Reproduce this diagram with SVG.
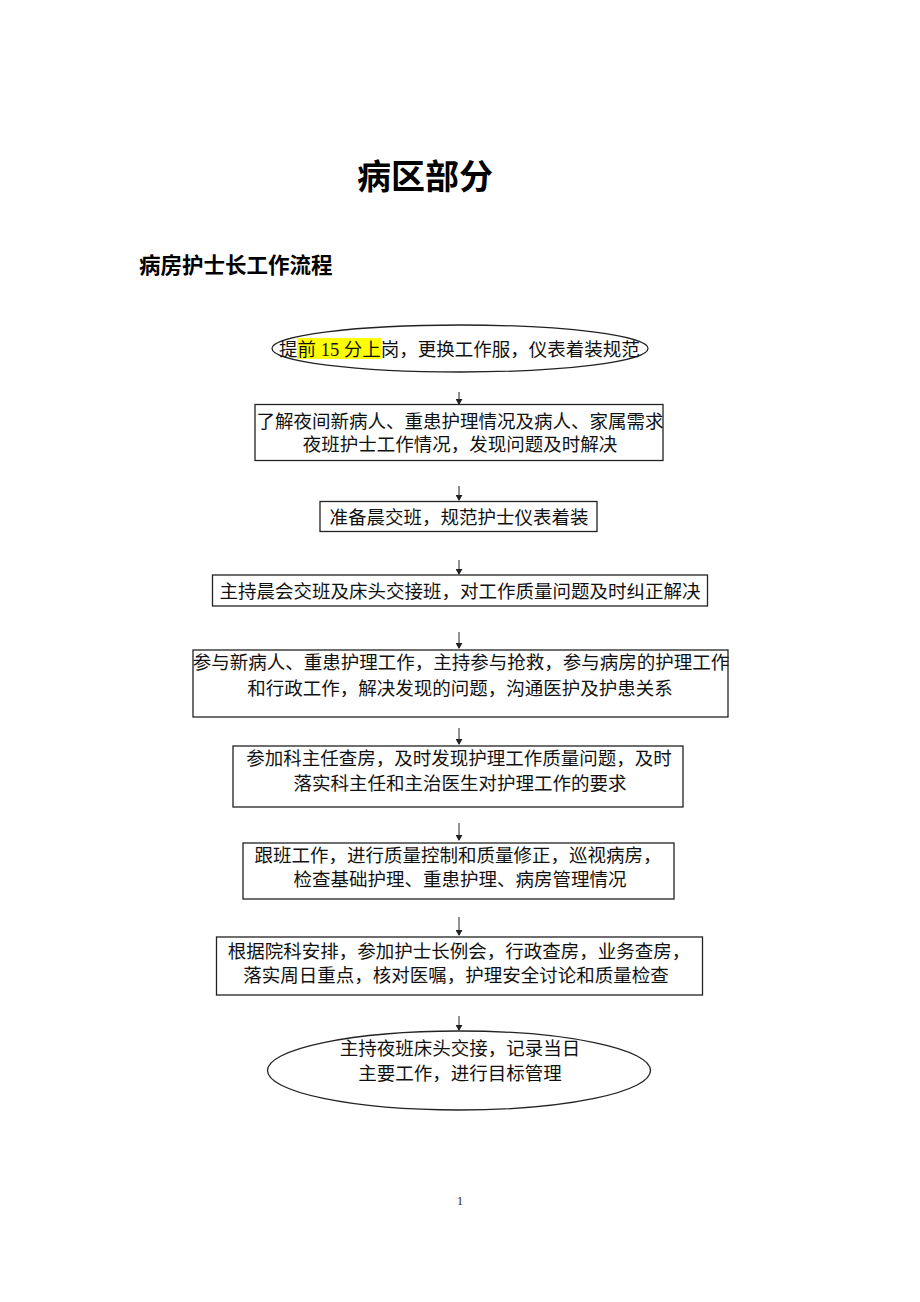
<svg xmlns="http://www.w3.org/2000/svg" width="920" height="1302" viewBox="0 0 920 1302">
<style>
.t{font-family:"Liberation Serif","Noto Sans CJK SC",serif;font-size:18.5px;fill:#111;text-anchor:middle}
.ts{font-family:"Liberation Serif","Noto Sans CJK SC",serif;font-size:18.5px;fill:#111}
.h{font-family:"Liberation Sans","Noto Sans CJK SC",sans-serif;font-weight:bold;fill:#000}
.b{fill:#fff;stroke:#222;stroke-width:1.3}
.c{stroke:#222;stroke-width:1;fill:none}
</style>
<defs>
<marker id="ah" markerWidth="6" markerHeight="7" refX="5" refY="3.5" orient="auto" markerUnits="userSpaceOnUse">
<path d="M0,0 L6,3.5 L0,7 Z" fill="#222"/>
</marker>
</defs>
<rect width="920" height="1302" fill="#fff"/>
<g id="title">
<text class="h" x="425" y="189" font-size="34" text-anchor="middle">病区部分</text>
<text class="h" x="139" y="273" font-size="21.5">病房护士长工作流程</text>
</g>
<g id="connectors">
<line class="c" x1="459" y1="392" x2="459" y2="404" marker-end="url(#ah)"/>
<line class="c" x1="459" y1="486" x2="459" y2="500" marker-end="url(#ah)"/>
<line class="c" x1="459" y1="560" x2="459" y2="574" marker-end="url(#ah)"/>
<line class="c" x1="459" y1="632" x2="459" y2="648" marker-end="url(#ah)"/>
<line class="c" x1="459" y1="728" x2="459" y2="744" marker-end="url(#ah)"/>
<line class="c" x1="459" y1="823" x2="459" y2="840" marker-end="url(#ah)"/>
<line class="c" x1="459" y1="917" x2="459" y2="935" marker-end="url(#ah)"/>
<line class="c" x1="459" y1="1016" x2="459" y2="1030" marker-end="url(#ah)"/>
</g>
<g id="n1">
<ellipse class="b" cx="460" cy="348.5" rx="188" ry="23.5"/>
<rect x="297" y="338" width="84" height="21" fill="#ffff00"/>
<text class="ts" x="279" y="356">提前 15 分上岗，更换工作服，仪表着装规范</text>
</g>
<g id="n2">
<rect class="b" x="255" y="404.5" width="408" height="56"/>
<text class="t" x="460" y="428">了解夜间新病人、重患护理情况及病人、家属需求</text>
<text class="t" x="460" y="451">夜班护士工作情况，发现问题及时解决</text>
</g>
<g id="n3">
<rect class="b" x="320" y="501.5" width="277" height="30"/>
<text class="t" x="459" y="524">准备晨交班，规范护士仪表着装</text>
</g>
<g id="n4">
<rect class="b" x="212.5" y="575" width="495" height="31"/>
<text class="t" x="460" y="598">主持晨会交班及床头交接班，对工作质量问题及时纠正解决</text>
</g>
<g id="n5">
<rect class="b" x="193" y="650" width="535" height="67"/>
<text class="t" x="461" y="669">参与新病人、重患护理工作，主持参与抢救，参与病房的护理工作</text>
<text class="t" x="460" y="695">和行政工作，解决发现的问题，沟通医护及护患关系</text>
</g>
<g id="n6">
<rect class="b" x="233" y="746" width="450" height="61"/>
<text class="t" x="459" y="765">参加科主任查房，及时发现护理工作质量问题，及时</text>
<text class="t" x="460" y="790">落实科主任和主治医生对护理工作的要求</text>
</g>
<g id="n7">
<rect class="b" x="243" y="843" width="431" height="56"/>
<text class="t" x="458" y="862">跟班工作，进行质量控制和质量修正，巡视病房，</text>
<text class="t" x="460" y="886">检查基础护理、重患护理、病房管理情况</text>
</g>
<g id="n8">
<rect class="b" x="216.5" y="937" width="486" height="58"/>
<text class="t" x="459" y="958">根据院科安排，参加护士长例会，行政查房，业务查房，</text>
<text class="t" x="456" y="982">落实周日重点，核对医嘱，护理安全讨论和质量检查</text>
</g>
<g id="n9">
<ellipse class="b" cx="459" cy="1070.5" rx="191.5" ry="39.5"/>
<text class="t" x="460" y="1055">主持夜班床头交接，记录当日</text>
<text class="t" x="460" y="1080">主要工作，进行目标管理</text>
</g>
<g id="page">
<text x="460" y="1205" font-family="Liberation Serif,serif" font-size="12" text-anchor="middle" fill="#222">1</text>
</g>
</svg>
